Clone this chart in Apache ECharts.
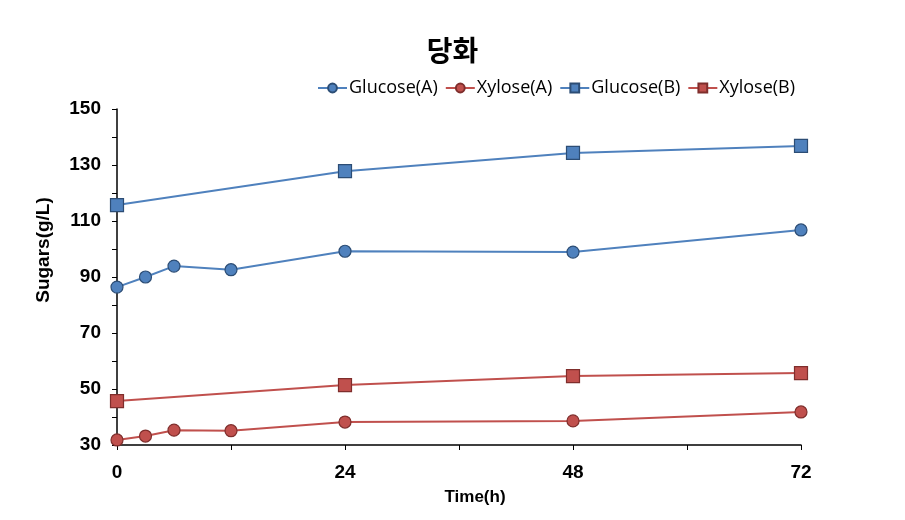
<!DOCTYPE html>
<html><head><meta charset="utf-8">
<script src="https://cdn.jsdelivr.net/npm/echarts@6/dist/echarts.min.js"></script>
<style>html,body{margin:0;padding:0;background:#fff}#c{width:905px;height:520px}</style>
</head><body><div id="c"></div>
<script>
const hoursA = [0, 3, 6, 12, 24, 48, 72];
const glucoseA = [86.4, 90.0, 93.9, 92.6, 99.2, 98.9, 106.8];
const xyloseA = [31.8, 33.2, 35.3, 35.1, 38.2, 38.6, 41.8];
const hoursB = [0, 24, 48, 72];
const glucoseB = [115.7, 127.8, 134.3, 136.8];
const xyloseB = [45.7, 51.4, 54.6, 55.7];
const xLabels = [0, 24, 48, 72];
const yLabels = [30, 50, 70, 90, 110, 130, 150];

const blue = '#4F81BD', red = '#C0504D';
const font = 'Liberation Sans';
function pts(xs, ys){ return xs.map((x,i)=>[x, ys[i]]); }
function ser(name, xs, ys, color, border, symbol, size){
  return {name, type:'line', data:pts(xs,ys), symbol, symbolSize:size,
    lineStyle:{color, width:2}, itemStyle:{color, borderColor:border, borderWidth:1.2},
    emphasis:{disabled:true}, animation:false};
}
const chart = echarts.init(document.getElementById('c'));
chart.setOption({
  animation:false,
  title:{text:'당화', left:'center', top:31, textStyle:{fontFamily:'Noto Sans CJK KR', fontWeight:'bold', fontSize:28, color:'#000'}},
  legend:{top:74, left:312, itemGap:7, itemWidth:29, itemHeight:11,
    textStyle:{fontFamily:'Open Sans', fontSize:18, color:'#000', padding:[0,0,0,-3]},
    data:['Glucose(A)','Xylose(A)','Glucose(B)','Xylose(B)']},
  grid:{left:117, right:104, top:109, bottom:75},
  xAxis:{type:'value', min:0, max:72, interval:12,
    name:'Time(h)', nameLocation:'middle', nameGap:44,
    nameTextStyle:{fontFamily:font, fontWeight:'bold', fontSize:17, color:'#000', padding:[0,0,0,32]},
    axisLine:{lineStyle:{color:'#000', width:1.5}},
    axisTick:{show:true, length:5, lineStyle:{color:'#000'}},
    axisLabel:{fontFamily:font, fontWeight:'bold', fontSize:19, color:'#000', margin:18,
      formatter:v=> xLabels.includes(v) ? String(v) : ''},
    splitLine:{show:false}},
  yAxis:{type:'value', min:30, max:150, interval:10,
    name:'Sugars(g/L)', nameLocation:'middle', nameGap:64,
    nameTextStyle:{fontFamily:font, fontWeight:'bold', fontSize:19, color:'#000', padding:[0,0,0,54]},
    axisLine:{show:true, lineStyle:{color:'#000', width:1.5}},
    axisTick:{show:true, length:5, lineStyle:{color:'#000'}},
    axisLabel:{fontFamily:font, fontWeight:'bold', fontSize:19, color:'#000', margin:16,
      formatter:v=> yLabels.includes(v) ? String(v) : ''},
    splitLine:{show:false}},
  series:[
    ser('Glucose(A)', hoursA, glucoseA, blue, '#2C4D75', 'circle', 12),
    ser('Xylose(A)', hoursA, xyloseA, red, '#7F2E2C', 'circle', 12),
    ser('Glucose(B)', hoursB, glucoseB, blue, '#2C4D75', 'rect', 13),
    ser('Xylose(B)', hoursB, xyloseB, red, '#7F2E2C', 'rect', 13)
  ]
});
</script></body></html>
